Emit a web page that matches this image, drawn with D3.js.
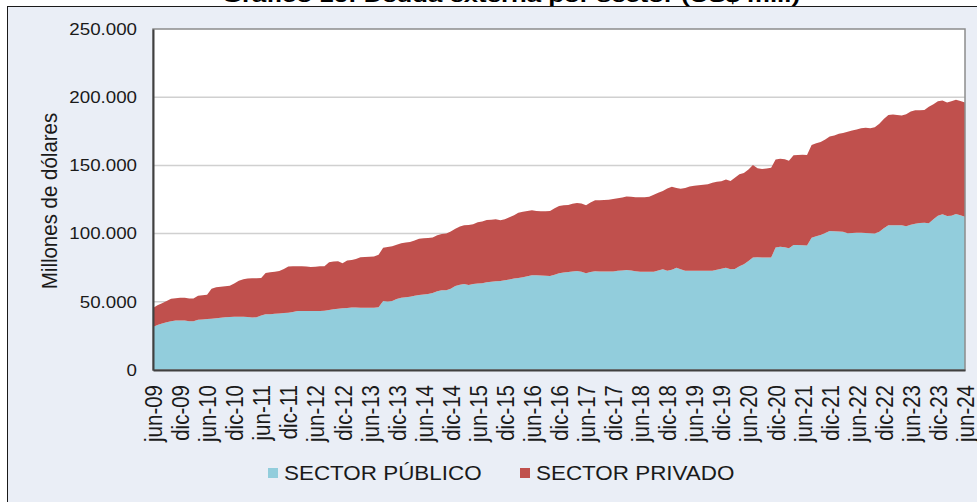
<!DOCTYPE html>
<html>
<head>
<meta charset="utf-8">
<script src="https://cdn.jsdelivr.net/npm/d3@7"></script>
<style>
  html, body { margin: 0; padding: 0; background: #ffffff; }
  svg { display: block; font-family: "Liberation Sans", Arial, sans-serif; }
</style>
</head>
<body>
<div id="chart-area"></div>
<script>
// Deuda externa por sector, mensual jun-09 .. jun-24 (miles de millones de US$)
var publico = [
  31.5,33.0,34.0,35.0,35.8,36.2,36.3,36.2,35.8,35.8,36.8,37.0,37.3,37.6,38.0,38.3,38.6,38.9,39.0,39.1,
  39.1,38.9,38.5,38.6,40.0,40.8,40.9,41.2,41.5,41.7,42.0,42.5,43.3,43.3,43.3,43.3,43.3,43.3,43.4,44.0,
  44.6,44.9,45.2,45.5,45.9,45.8,45.7,45.7,45.7,45.7,46.0,50.5,50.3,50.6,52.0,53.0,53.3,53.7,54.5,55.0,
  55.4,55.8,56.5,57.8,58.4,58.4,59.5,61.5,62.5,63.0,62.4,63.0,63.5,63.6,64.3,64.7,65.0,65.3,65.8,66.4,
  67.0,67.4,68.0,68.8,69.4,69.4,69.3,69.1,68.9,69.8,71.0,71.4,71.8,72.2,72.6,72.0,70.9,71.8,72.4,72.3,
  72.3,72.3,72.3,72.7,73.0,73.3,73.0,72.4,72.0,72.1,72.1,72.1,73.0,73.8,72.8,73.5,75.0,73.8,72.8,72.8,
  72.8,72.8,72.8,72.8,72.8,73.5,74.3,75.0,73.8,74.0,76.0,77.5,80.0,82.4,82.6,82.5,82.4,82.4,89.9,90.3,
  90.0,89.2,91.6,91.6,91.4,91.2,97.0,98.0,99.0,100.5,101.9,101.7,101.5,101.4,100.2,100.4,100.6,100.7,100.5,100.2,
  100.0,101.4,104.0,106.1,106.1,106.1,106.1,105.3,106.5,107.2,107.8,108.0,107.5,110.5,113.0,114.1,112.9,113.0,114.4,113.5,
  112.4
];
var privado = [
  14.0,14.5,14.9,15.5,16.5,16.4,16.7,16.7,16.7,16.6,17.7,17.8,17.9,21.9,22.6,22.7,22.8,22.9,24.5,26.4,
  27.4,28.1,28.7,28.7,27.4,30.4,30.7,30.8,31.1,32.3,33.8,33.5,32.7,32.7,32.5,32.2,32.4,32.7,32.6,35.0,
  34.9,34.8,33.1,34.7,34.8,35.5,36.9,37.1,37.3,37.5,38.5,39.2,39.9,40.1,39.8,39.9,40.1,40.2,40.5,41.3,
  41.1,41.0,40.7,41.0,41.3,41.6,42.0,42.0,42.7,43.2,43.9,43.8,44.8,45.3,45.7,45.5,45.5,44.4,44.7,45.6,
  46.5,47.8,48.0,47.8,47.7,47.2,47.0,47.3,47.7,48.7,49.2,49.4,49.2,49.6,49.9,50.0,49.9,51.0,52.0,52.2,
  52.3,52.6,53.0,53.2,53.5,53.9,54.0,54.3,54.6,54.6,54.9,56.4,57.0,57.4,60.2,60.8,58.5,59.1,60.7,61.7,
  62.2,62.6,63.0,63.3,64.4,64.5,64.0,64.6,64.8,67.0,67.5,67.0,67.0,67.9,65.4,64.9,65.4,65.9,64.5,64.5,
  64.5,64.3,65.8,66.0,66.4,66.4,68.0,68.2,68.2,68.5,69.2,70.3,71.7,72.4,74.4,75.1,75.7,76.6,77.1,77.0,
  78.0,79.1,80.0,80.9,81.2,80.9,80.5,82.2,83.0,83.2,82.7,82.6,85.5,84.3,84.0,83.4,83.3,84.0,83.8,83.8,
  83.8
];
var seriesNames = ['SECTOR PÚBLICO', 'SECTOR PRIVADO'];
var seriesColors = ['#92cddc', '#c0504d'];

var xTickLabels = ['jun-09','dic-09','jun-10','dic-10','jun-11','dic-11','jun-12','dic-12','jun-13','dic-13',
  'jun-14','dic-14','jun-15','dic-15','jun-16','dic-16','jun-17','dic-17','jun-18','dic-18','jun-19','dic-19',
  'jun-20','dic-20','jun-21','dic-21','jun-22','dic-22','jun-23','dic-23','jun-24'];
var yTickValues = [0, 50, 100, 150, 200, 250];
var yTickLabels = ['0', '50.000', '100.000', '150.000', '200.000', '250.000'];

var svgWidth = 977, svgHeight = 502;
var plot = {left: 153, right: 965, top: 29, bottom: 370};
var stretch = 1.15; // the reference text is a little wider than tall

var months = d3.timeMonth.range(new Date(2009, 5, 1), new Date(2024, 6, 1));
var data = months.map(function(m, i) {
  return {date: m, publico: publico[i], privado: privado[i]};
});

var svg = d3.select('#chart-area')
  .append('svg')
  .attr('width', svgWidth)
  .attr('height', svgHeight);

// outer frame
svg.append('rect')
  .attr('x', 7.5).attr('y', 6.5)
  .attr('width', svgWidth + 10).attr('height', svgHeight + 10)
  .attr('fill', '#eaeef6')
  .attr('stroke', '#1a1a1a').attr('stroke-width', 1);

// title (cut at the top of the picture, as in the original)
svg.append('text')
  .attr('x', 511).attr('y', 2)
  .attr('text-anchor', 'middle')
  .attr('font-size', 19).attr('font-weight', 'bold')
  .attr('textLength', 578).attr('lengthAdjust', 'spacingAndGlyphs')
  .attr('fill', '#000')
  .text('Gráfico 16: Deuda externa por sector (US$ mill)');

var xScale = d3.scaleTime()
  .domain([months[0], months[months.length - 1]])
  .range([plot.left, plot.right]);

var yScale = d3.scaleLinear()
  .domain([0, 250])
  .range([plot.bottom, plot.top]);

// plot background
svg.append('rect')
  .attr('x', plot.left).attr('y', plot.top)
  .attr('width', plot.right - plot.left).attr('height', plot.bottom - plot.top)
  .attr('fill', '#ffffff');

// gridlines
svg.append('g')
  .selectAll('line')
  .data(yTickValues.slice(1, -1))
  .enter().append('line')
  .attr('x1', plot.left).attr('x2', plot.right)
  .attr('y1', function(d) { return yScale(d); })
  .attr('y2', function(d) { return yScale(d); })
  .attr('stroke', '#d0d0d0').attr('stroke-width', 1.5);

// stacked areas
var stack = d3.stack().keys(['publico', 'privado']);
var layers = stack(data);

var area = d3.area()
  .x(function(d) { return xScale(d.data.date); })
  .y0(function(d) { return yScale(d[0]); })
  .y1(function(d) { return yScale(d[1]); });

svg.append('g')
  .selectAll('path')
  .data(layers)
  .enter().append('path')
  .attr('d', area)
  .attr('fill', function(d, i) { return seriesColors[i]; });

// plot border
svg.append('rect')
  .attr('x', plot.left).attr('y', plot.top)
  .attr('width', plot.right - plot.left).attr('height', plot.bottom - plot.top)
  .attr('fill', 'none')
  .attr('stroke', '#8c8c8c').attr('stroke-width', 1.5);

// axes
var yAxis = d3.axisLeft(yScale)
  .tickValues(yTickValues)
  .tickSize(0)
  .tickPadding(0)
  .tickFormat(function(d, i) { return yTickLabels[i]; });

var yG = svg.append('g')
  .attr('transform', 'translate(' + plot.left + ',0)')
  .call(yAxis);
yG.select('.domain').attr('stroke', '#404040').attr('stroke-width', 2);
yG.selectAll('text')
  .attr('font-size', 16.3)
  .attr('font-family', '"Liberation Sans", Arial, sans-serif')
  .attr('fill', '#1a1a1a')
  .attr('x', 0)
  .attr('transform', 'translate(-16,0) scale(' + stretch + ',1)');

var tickDates = months.filter(function(m, i) { return i % 6 === 0; });
var xAxis = d3.axisBottom(xScale)
  .tickValues(tickDates)
  .tickSize(0)
  .tickFormat(function(d, i) { return xTickLabels[i]; });

var xG = svg.append('g')
  .attr('transform', 'translate(0,' + plot.bottom + ')')
  .call(xAxis);
xG.select('.domain').attr('stroke', '#404040').attr('stroke-width', 2);
xG.selectAll('text')
  .attr('font-size', 20.5)
  .attr('font-family', '"Liberation Sans", Arial, sans-serif')
  .attr('fill', '#1a1a1a')
  .attr('text-anchor', 'end')
  .attr('x', 0).attr('y', 0)
  .attr('dy', '0.36em')
  .attr('transform', 'translate(0,15) scale(' + stretch + ',1) rotate(-90)');

// y title
svg.append('text')
  .attr('transform', 'translate(57,201) scale(1.1,1) rotate(-90)')
  .attr('text-anchor', 'middle')
  .attr('font-size', 20.5)
  .attr('fill', '#1a1a1a')
  .text('Millones de dólares');

// legend
var legendX = [268, 520];
var legend = svg.append('g')
  .selectAll('g')
  .data(seriesNames)
  .enter().append('g')
  .attr('transform', function(d, i) { return 'translate(' + legendX[i] + ',468)'; });

legend.append('rect')
  .attr('width', 10).attr('height', 10)
  .attr('fill', function(d, i) { return seriesColors[i]; });

legend.append('text')
  .attr('transform', 'translate(16,12) scale(' + stretch + ',1)')
  .attr('font-size', 19.5)
  .attr('fill', '#1a1a1a')
  .text(function(d) { return d; });
</script>
</body>
</html>
